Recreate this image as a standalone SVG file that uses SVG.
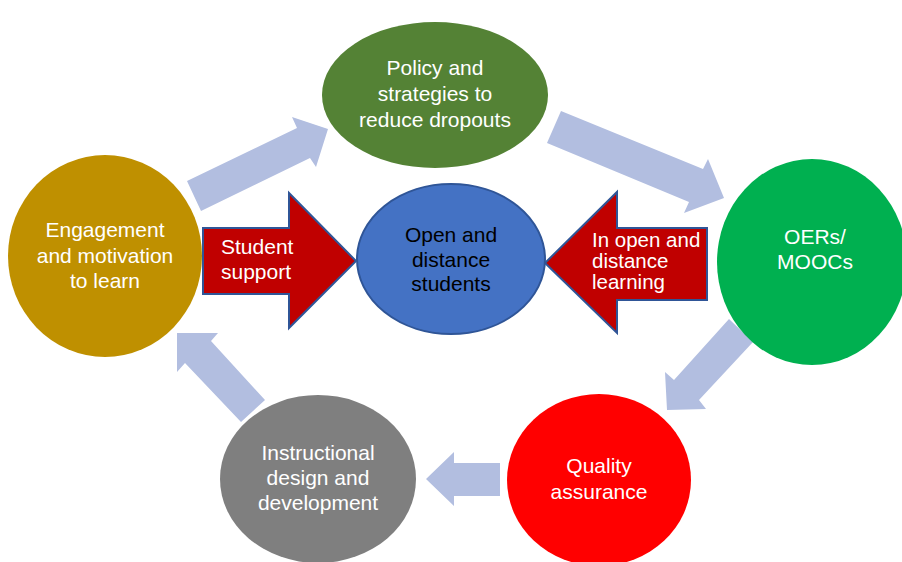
<svg xmlns="http://www.w3.org/2000/svg" width="902" height="562" viewBox="0 0 902 562">
<style>
text{font-family:"Liberation Sans",Arial,sans-serif;font-size:21px;fill:#ffffff}
.c{text-anchor:middle}
.dk{fill:#000000}
.flow{fill:#B2BEE0;stroke:none}
.red{fill:#C00000;stroke:#2F5597;stroke-width:2;stroke-linejoin:miter}
</style>
<rect width="902" height="562" fill="#ffffff"/>
<g id="connectors">
<polygon class="flow" points="187,181 297,128 292,117 328,129 316,167 310,158 201,211"/>
<polygon class="flow" points="561,111 703,169 708,159 724,198 684,213 689,202 547,143"/>
<polygon class="flow" points="729,319 753,342 699,400 706,409 667,410 665,372 674,380"/>
<polygon class="flow" points="426,479 454,452 454,463 500,463 500,496 454,496 454,506"/>
<polygon class="flow" points="177,333 218,333 211,341 265,400 241,422 185,363 177,372"/>
</g>
<g id="policy">
<ellipse cx="435" cy="95" rx="113" ry="73" fill="#548235"/>
<text class="c" x="435" y="75">Policy and</text>
<text class="c" x="435" y="101">strategies to</text>
<text class="c" x="435" y="127">reduce dropouts</text>
</g>
<g id="engagement">
<ellipse cx="105" cy="256" rx="97" ry="101" fill="#BF9000"/>
<text class="c" x="105" y="237">Engagement</text>
<text class="c" x="105" y="263">and motivation</text>
<text class="c" x="105" y="288">to learn</text>
</g>
<g id="oers">
<ellipse cx="812" cy="262" rx="95" ry="103" fill="#00B050"/>
<text class="c" x="815" y="244">OERs/</text>
<text class="c" x="815" y="269">MOOCs</text>
</g>
<g id="instructional">
<ellipse cx="318" cy="479" rx="98" ry="84" fill="#7F7F7F"/>
<text class="c" x="318" y="460">Instructional</text>
<text class="c" x="318" y="485">design and</text>
<text class="c" x="318" y="510">development</text>
</g>
<g id="quality">
<ellipse cx="599" cy="480" rx="92" ry="86" fill="#FF0000"/>
<text class="c" x="599" y="473">Quality</text>
<text class="c" x="599" y="499">assurance</text>
</g>
<g id="student-support">
<polygon class="red" points="203,228 289,228 289,193 356,261 289,328 289,294 203,294"/>
<text x="221" y="254">Student</text>
<text x="221" y="279">support</text>
</g>
<g id="in-open">
<polygon class="red" points="545,263 617,192 617,228 707,228 707,300 617,300 617,333"/>
<text x="592" y="247" style="font-size:20.5px">In open and</text>
<text x="592" y="268" style="font-size:20.5px">distance</text>
<text x="592" y="289" style="font-size:20.5px">learning</text>
</g>
<g id="students">
<ellipse cx="451" cy="259" rx="94" ry="75" fill="#4472C4" stroke="#2F5597" stroke-width="2"/>
<text class="c dk" x="451" y="242">Open and</text>
<text class="c dk" x="451" y="267">distance</text>
<text class="c dk" x="451" y="291">students</text>
</g>
</svg>
